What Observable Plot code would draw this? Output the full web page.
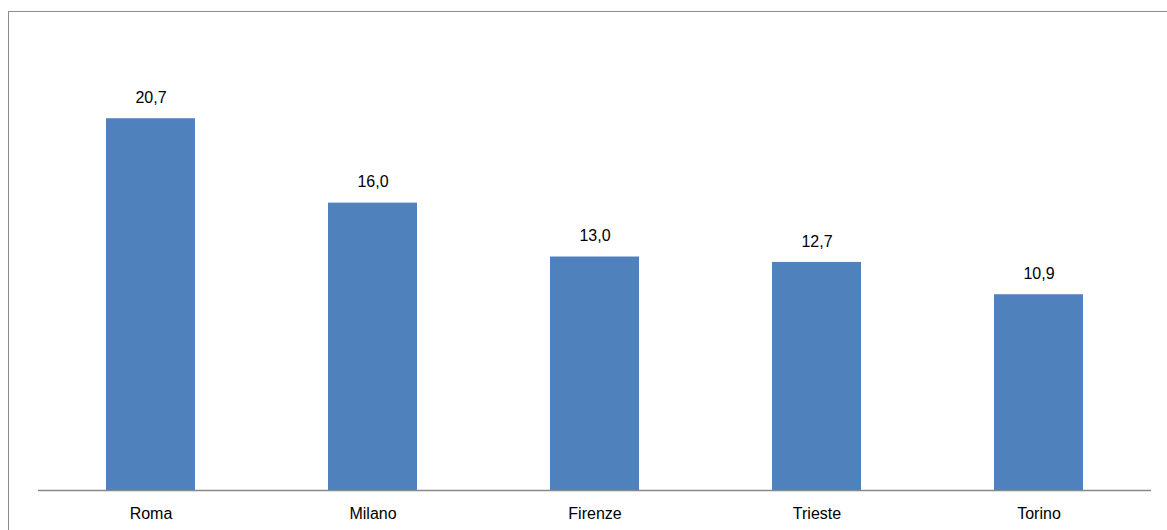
<!DOCTYPE html>
<html>
<head>
<meta charset="utf-8">
<script src="https://cdn.jsdelivr.net/npm/d3@7"></script>
<script src="https://cdn.jsdelivr.net/npm/@observablehq/plot@0.6"></script>
<style>
  html, body { margin: 0; padding: 0; background: #fff; overflow: hidden; }
  #wrap { position: relative; width: 1167px; height: 530px; }
  #frame {
    position: absolute; left: 8px; top: 11px; width: 1200px; height: 600px;
    border: 1.5px solid #8c8c8c; box-sizing: border-box; pointer-events: none;
  }
  #chart { position: absolute; left: 0; top: 0; }
</style>
</head>
<body>
<div id="wrap">
  <div id="frame"></div>
  <div id="chart"></div>
</div>
<script>
// Cities and their values
const cities = ["Roma", "Milano", "Firenze", "Trieste", "Torino"];
const values = [20.7, 16.0, 13.0, 12.7, 10.9];

const rows = cities.map((city, i) => ({city, value: values[i]}));
const fmt = v => v.toLocaleString("it-IT", {minimumFractionDigits: 1, maximumFractionDigits: 1});

const chart = Plot.plot({
  width: 1167,
  height: 530,
  marginLeft: 38,
  marginRight: 16,
  marginTop: 41,
  marginBottom: 40,
  style: {fontFamily: "'Liberation Sans', Arial, sans-serif", fontSize: "16px", color: "#000", background: "transparent"},
  x: {domain: cities, paddingInner: 0.6, paddingOuter: 0.3, label: null, tickSize: 0, tickPadding: 17},
  y: {domain: [0, 25], axis: null},
  marks: [
    Plot.barY(rows, {x: "city", y: "value", fill: "#4f81bd"}),
    Plot.text(rows, {x: "city", y: "value", text: d => fmt(d.value), dy: -21, fill: "#000", fontSize: 16}),
    Plot.ruleY([0], {stroke: "#888", strokeWidth: 1.5})
  ]
});
chart.querySelectorAll("[aria-label='x-axis tick label'] text").forEach(t => t.setAttribute("fill", "#000"));
document.getElementById("chart").appendChild(chart);
</script>
</body>
</html>
